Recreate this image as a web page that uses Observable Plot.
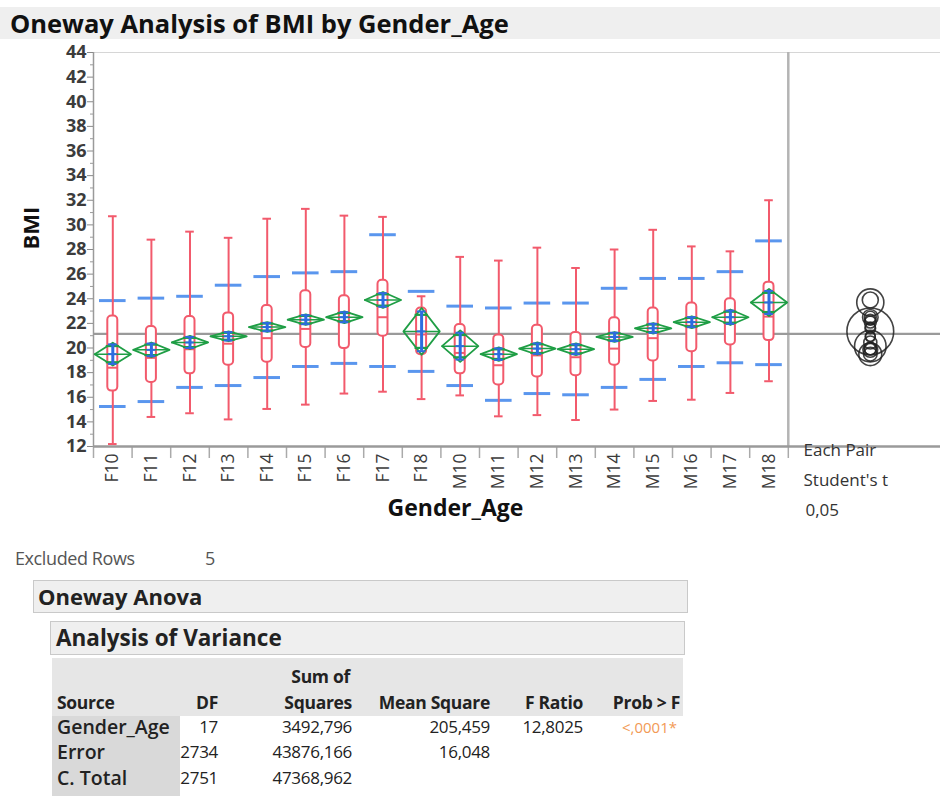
<!DOCTYPE html>
<html><head><meta charset="utf-8">
<script src="https://cdn.jsdelivr.net/npm/d3@7"></script>
<script src="https://cdn.jsdelivr.net/npm/@observablehq/plot@0.6"></script>
<style>
body{margin:0;background:#fff;font-family:"Open Sans",sans-serif;}
#root{position:relative;width:940px;height:796px;overflow:hidden;}
.abs{position:absolute;white-space:nowrap;}
</style></head><body><div id="root"></div>
<script>
// ---- data ----
const categories = ["F10","F11","F12","F13","F14","F15","F16","F17","F18","M10","M11","M12","M13","M14","M15","M16","M17","M18"];
const whiskerLow  = [12.2,14.4,14.7,14.2,15.05,15.4,16.3,16.45,15.85,16.15,14.45,14.55,14.15,15.0,15.7,15.8,16.35,17.3];
const quartile1   = [16.5,17.2,17.9,18.6,18.85,20.05,19.95,20.95,19.45,17.9,17.0,17.65,17.75,18.6,18.95,19.7,20.25,20.6];
const median      = [18.4,19.2,19.9,20.35,20.8,21.55,22.2,22.5,21.1,19.6,18.6,19.4,19.25,19.95,20.8,21.8,21.95,22.55];
const quartile3   = [22.6,21.75,22.55,22.85,23.45,24.65,24.25,25.5,23.25,21.9,21.05,21.85,21.25,22.45,23.25,23.65,24.0,25.35];
const whiskerHigh = [30.7,28.8,29.45,28.95,30.5,31.3,30.75,30.65,24.2,27.4,27.1,28.15,26.5,28.0,29.6,28.25,27.85,32.0];
const groupMean   = [19.5,19.85,20.45,20.95,21.7,22.3,22.5,23.9,21.35,20.15,19.5,19.95,19.9,20.9,21.6,22.1,22.5,23.7];
const ciHalf      = [0.93,0.6,0.53,0.4,0.4,0.43,0.48,0.65,1.9,1.28,0.55,0.5,0.47,0.4,0.43,0.48,0.63,1.1];
const sdLow       = [15.25,15.65,16.8,16.95,17.6,18.5,18.75,18.5,18.1,16.95,15.75,16.3,16.2,16.8,17.45,18.5,18.8,18.65];
const sdHigh      = [23.85,24.05,24.2,25.1,25.8,26.1,26.2,29.2,24.6,23.4,23.25,23.65,23.65,24.85,25.65,25.65,26.2,28.7];
const grandMean = 21.15;
const yTicks = [12,14,16,18,20,22,24,26,28,30,32,34,36,38,40,42,44];
const yMinorTicks = [13,15,17,19,21,23,25,27,29,31,33,35,37,39,41,43];
const testLabels = ["Each Pair","Student's t","0,05"];
const anovaHeader = ["Source","DF","Squares","Mean Square","F Ratio","Prob > F"];
const anovaSource = ["Gender_Age","Error","C. Total"];
const anovaDF = ["17","2734","2751"];
const anovaSS = ["3492,796","43876,166","47368,962"];
const anovaMS = ["205,459","16,048",""];
const anovaF = ["12,8025","",""];
const anovaP = ["<,0001*","",""];

// ---- layout ----
const W = 940, H = 493, mT = 10, mB = 89, mL = 93, mR = 0;
const bandPx = 38.6;
const xMax = (W - mL - mR) / bandPx;
const yMin = 12, yMax = 44;
const pxPerUnit = (H - mT - mB) / (yMax - yMin);
const RED = "#f25a6c", BLUE = "#5a96ee", DBLUE = "#2d6be0", GREEN = "#1f9e45";

const rows = categories.map((c, i) => {
  const m = groupMean[i], h = ciHalf[i], xc = i + 0.5;
  return {c, i, x0: i, x1: i + 1, xc,
    wl: whiskerLow[i], q1: quartile1[i], med: median[i], q3: quartile3[i], wh: whiskerHigh[i],
    mean: m, h, lo: m - h, hi: m + h,
    ovLo: m - h / Math.SQRT2, ovHi: m + h / Math.SQRT2,
    ovX1: xc - 0.17, ovX2: xc + 0.17,
    dX1: xc - 0.47, dX2: xc + 0.47,
    ebLo: m - 0.85 * h, ebHi: m + 0.85 * h,
    sdLo: sdLow[i], sdHi: sdHigh[i]};
});
const diamondPts = rows.flatMap(r => [
  {g: r.c, x: r.dX1, y: r.mean}, {g: r.c, x: r.xc, y: r.hi},
  {g: r.c, x: r.dX2, y: r.mean}, {g: r.c, x: r.xc, y: r.lo},
  {g: r.c, x: r.dX1, y: r.mean}]);
const circleX = 18 + (870 - 788) / bandPx;

const chart = Plot.plot({
  width: W, height: H, marginTop: mT, marginBottom: mB, marginLeft: mL, marginRight: mR,
  style: {fontFamily: "Open Sans, sans-serif", background: "transparent", overflow: "visible"},
  x: {type: "linear", domain: [0, xMax], label: null},
  y: {domain: [yMin, yMax], label: null},
  r: {type: "identity"},
  marks: [
    // frame
    Plot.ruleY([yMax], {stroke: "#d6d6d6", strokeWidth: 1}),
    Plot.ruleX([0], {stroke: "#9a9a9a", strokeWidth: 1.5}),
    Plot.ruleX([18], {stroke: "#b4b4b4", strokeWidth: 2.5}),
    // y axis
    Plot.axisY({ticks: yTicks, tickSize: 6, tickPadding: 1, fontSize: 18, fontWeight: 700, stroke: "#8a8a8a", fill: "#3c3c3c", label: null}),
    Plot.axisY({ticks: yMinorTicks, tickSize: 3, tickFormat: () => "", stroke: "#9a9a9a", label: null}),
    // x axis
    Plot.axisX({ticks: d3.range(0, 19), tickSize: 12, tickFormat: () => "", stroke: "#aaaaaa", strokeWidth: 1.5, label: null}),
    Plot.axisX({ticks: rows.map(r => r.xc), tickSize: 0, tickPadding: 7, tickRotate: -90,
      tickFormat: v => categories[Math.floor(v)], fontSize: 17.5, fill: "#3c3c3c", label: null}),
    // grand mean
    Plot.ruleY([grandMean], {stroke: "#9a9a9a", strokeWidth: 2.2}),
    Plot.ruleY([yMin], {stroke: "#9a9a9a", strokeWidth: 2.5}),
    // SD lines
    Plot.ruleY(rows, {y: "sdLo", x1: "x0", x2: "x1", insetLeft: 6, insetRight: 6, stroke: BLUE, strokeWidth: 3}),
    Plot.ruleY(rows, {y: "sdHi", x1: "x0", x2: "x1", insetLeft: 6, insetRight: 6, stroke: BLUE, strokeWidth: 3}),
    // box plots
    Plot.ruleX(rows, {x: "xc", y1: "wl", y2: "wh", stroke: RED, strokeWidth: 2}),
    Plot.ruleY(rows, {y: "wl", x1: "x0", x2: "x1", insetLeft: 15, insetRight: 15, stroke: RED, strokeWidth: 2}),
    Plot.ruleY(rows, {y: "wh", x1: "x0", x2: "x1", insetLeft: 15, insetRight: 15, stroke: RED, strokeWidth: 2}),
    Plot.rect(rows, {x1: "x0", x2: "x1", y1: "q1", y2: "q3", insetLeft: 14.3, insetRight: 14.3, rx: 4,
      fill: "white", stroke: RED, strokeWidth: 2}),
    Plot.ruleY(rows, {y: "med", x1: "x0", x2: "x1", insetLeft: 14.3, insetRight: 14.3, stroke: RED, strokeWidth: 2}),
    // means diamonds
    Plot.line(diamondPts, {x: "x", y: "y", z: "g", stroke: GREEN, strokeWidth: 1.8, curve: "linear"}),
    Plot.ruleY(rows, {y: "mean", x1: "dX1", x2: "dX2", stroke: GREEN, strokeWidth: 1.5}),
    Plot.ruleY(rows, {y: "ovLo", x1: "ovX1", x2: "ovX2", stroke: GREEN, strokeWidth: 2.2}),
    Plot.ruleY(rows, {y: "ovHi", x1: "ovX1", x2: "ovX2", stroke: GREEN, strokeWidth: 2.2}),
    // mean error bars
    Plot.ruleX(rows, {x: "xc", y1: "ebLo", y2: "ebHi", stroke: DBLUE, strokeWidth: 3}),
    Plot.ruleY(rows, {y: "ebLo", x1: "x0", x2: "x1", insetLeft: 15, insetRight: 15, stroke: DBLUE, strokeWidth: 2}),
    Plot.ruleY(rows, {y: "ebHi", x1: "x0", x2: "x1", insetLeft: 15, insetRight: 15, stroke: DBLUE, strokeWidth: 2}),
    Plot.ruleY(rows, {y: "mean", x1: "x0", x2: "x1", insetLeft: 15, insetRight: 15, stroke: DBLUE, strokeWidth: 2}),
    // comparison circles
    Plot.dot(rows, {x: () => circleX, y: "mean", r: d => d.h * pxPerUnit, stroke: "#222", strokeWidth: 1.6, fill: "none", strokeOpacity: 0.85}),
    // texts
    Plot.text(["Gender_Age"], {x: () => (455 - mL) / bandPx, frameAnchor: "bottom", dy: 69, fontSize: 23, fontWeight: 700, fill: "#111"}),
    Plot.text([testLabels[0]], {x: () => (803 - mL) / bandPx, frameAnchor: "bottom", dy: 9, textAnchor: "start", fontSize: 17, fill: "#333"}),
    Plot.text([testLabels[1]], {x: () => (803 - mL) / bandPx, frameAnchor: "bottom", dy: 39, textAnchor: "start", fontSize: 17, fill: "#333"}),
    Plot.text([testLabels[2]], {x: () => (805 - mL) / bandPx, frameAnchor: "bottom", dy: 69, textAnchor: "start", fontSize: 17, fill: "#333"}),
    Plot.text(["BMI"], {frameAnchor: "left", dx: -62, rotate: -90, fontSize: 22, fontWeight: 700, fill: "#111"})
  ]
});

const root = document.getElementById("root");
function addDiv(text, css) {
  const d = document.createElement("div");
  d.className = "abs"; d.textContent = text;
  Object.assign(d.style, css);
  root.appendChild(d);
  return d;
}
// title bar
addDiv("Oneway Analysis of BMI by Gender_Age", {left: "0px", top: "7px", width: "940px", height: "32px",
  background: "#efefef", fontWeight: "700", fontSize: "25.5px", lineHeight: "32px", paddingLeft: "10px", color: "#111", boxSizing: "border-box"});
// chart
const holder = document.createElement("div");
holder.className = "abs"; holder.style.left = "0px"; holder.style.top = "42px";
holder.appendChild(chart); root.appendChild(holder);

// report below
addDiv("Excluded Rows", {left: "15px", top: "547px", fontSize: "18px", letterSpacing: "-0.4px", color: "#555", lineHeight: "22px"});
addDiv("5", {left: "205px", top: "547px", fontSize: "18px", color: "#555", lineHeight: "22px"});
addDiv("Oneway Anova", {left: "33px", top: "580px", width: "655px", height: "33px", boxSizing: "border-box",
  background: "#efefef", border: "1px solid #c9c9c9", fontWeight: "700", fontSize: "22px", lineHeight: "30px", paddingLeft: "4px", color: "#222"});
addDiv("Analysis of Variance", {left: "50px", top: "621px", width: "635px", height: "34px", boxSizing: "border-box",
  background: "#efefef", border: "1px solid #c9c9c9", fontWeight: "700", fontSize: "22.5px", lineHeight: "31px", paddingLeft: "5px", color: "#222"});
addDiv("", {left: "52px", top: "658px", width: "631px", height: "58px", background: "#e6e6e6"});
addDiv("", {left: "52px", top: "716px", width: "128px", height: "80px", background: "#d9d9d9"});

function cell(text, x, yc, anchor, css) {
  if (!text) return;
  const d = addDiv(text, Object.assign({top: (yc - 12) + "px", lineHeight: "24px", fontSize: "16px", color: "#222"}, css || {}));
  if (anchor === "end") { d.style.right = (940 - x) + "px"; d.style.textAlign = "right"; }
  else d.style.left = x + "px";
}
const colRight = [0, 218, 352, 490, 583, 680];
const hb = {fontWeight: "700", fontSize: "17.5px", letterSpacing: "-0.3px"};
cell("Sum of", 350, 676, "end", hb);
cell(anovaHeader[0], 57, 702, "start", hb);
for (let k = 1; k < 6; k++) cell(anovaHeader[k], colRight[k], 702, "end", hb);
const rowY = [727, 752, 778];
const vs = {fontSize: "17px", letterSpacing: "-0.3px"};
for (let j = 0; j < 3; j++) {
  cell(anovaSource[j], 57, rowY[j], "start", {fontWeight: "600", fontSize: "19.5px"});
  cell(anovaDF[j], colRight[1], rowY[j], "end", vs);
  cell(anovaSS[j], colRight[2], rowY[j], "end", vs);
  cell(anovaMS[j], colRight[3], rowY[j], "end", vs);
  cell(anovaF[j], colRight[4], rowY[j], "end", vs);
  cell(anovaP[j], 677, rowY[j], "end", {fontSize: "15px", color: "#f29a55"});
}
</script></body></html>
